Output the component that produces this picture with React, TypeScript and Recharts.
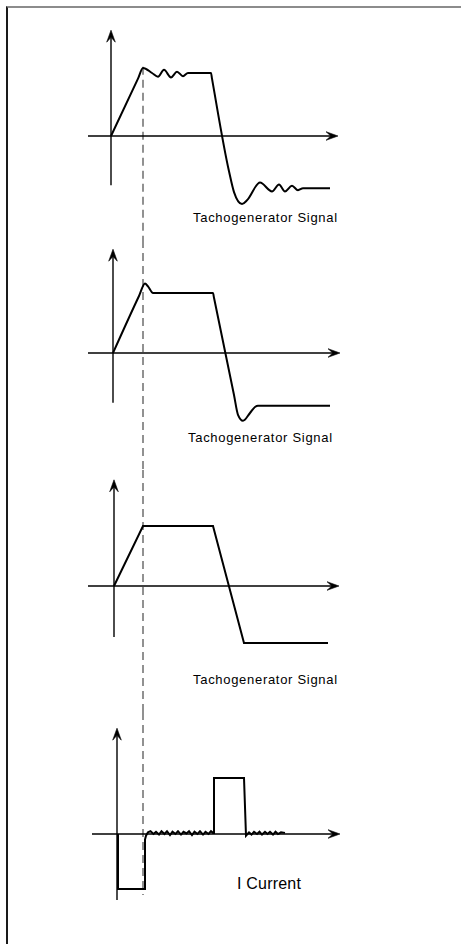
import React from 'react';
import { LineChart, Line, XAxis, YAxis, ReferenceLine } from 'recharts';

// shared time axis (arbitrary units) for all four traces
const timeDomain: [number, number] = [-28, 232];
const switchTime = 31; // dashed marker through every trace

// 1) tachogenerator, underdamped
const tacho1T = [-1, 26, 31, 40, 46, 52, 59, 65, 71, 76, 99, 100, 117, 122, 130, 135, 148, 160, 167, 173, 180, 186, 191, 218];
const tacho1V = [0, 0.91, 1.08, 1.0, 0.94, 1.05, 0.93, 1.02, 0.95, 1.0, 1.0, 0.91, -0.56, -0.89, -1.08, -1.02, -0.74, -0.88, -0.77, -0.88, -0.79, -0.86, -0.83, -0.83];

// 2) tachogenerator, one overshoot
const tacho2T = [1, 27, 33, 36, 41, 101, 102, 122, 126, 131, 138, 143, 146, 218];
const tacho2V = [0, 0.95, 1.16, 1.11, 1.0, 1.0, 0.92, -0.7, -1.03, -1.13, -1.0, -0.9, -0.88, -0.88];

// 3) tachogenerator, ideal
const tacho3T = [2, 31, 101, 132, 216];
const tacho3V = [0, 1, 1, -0.95, -0.95];

// 4) armature current
const currentT = [6, 6, 33, 33, 34, 36, 38.5, 41.5, 44, 47, 49.5, 52.5, 55, 58, 60.5, 63.5, 66, 69, 71.5, 74.5, 77, 80, 82.5, 85.5, 88, 91, 93.5, 96.5, 99, 101, 102, 102, 132, 134, 137, 139.5, 142, 145, 147.5, 150, 153, 155.5, 158, 161, 163.5, 166, 169, 173];
const currentV = [0, -0.98, -0.98, -0.1, -0.03, 0.03, 0.05, 0.0, 0.04, -0.01, 0.05, 0.0, 0.05, -0.02, 0.04, 0.0, 0.05, -0.01, 0.04, 0.01, 0.05, -0.02, 0.04, 0.0, 0.05, -0.01, 0.04, 0.0, 0.05, 0.02, 0.02, 1.0, 1.0, -0.03, 0.03, -0.01, 0.04, 0.0, 0.04, -0.01, 0.04, 0.0, 0.04, -0.01, 0.04, 0.0, 0.03, 0.02];

const labels = ['Tachogenerator Signal', 'Tachogenerator Signal', 'Tachogenerator Signal', 'I Current'];

const toRows = (t: number[], v: number[]) => t.map((x, i) => ({ t: x, v: v[i] }));

const ArrowLine = (props: any) => {
  const { x1, y1, x2, y2 } = props;
  const a = Math.atan2(y2 - y1, x2 - x1);
  const L = 12;
  const W = 4.3;
  const ca = Math.cos(a);
  const sa = Math.sin(a);
  const pt = (u: number, w: number) => `${x2 + u * ca - w * sa},${y2 + u * sa + w * ca}`;
  return (
    <g>
      <line x1={x1} y1={y1} x2={x2 - 7 * ca} y2={y2 - 7 * sa} stroke="#000" strokeWidth={1.4} />
      <path d={`M${pt(0, 0)} L${pt(-L, -W)} L${pt(-L * 0.6, 0)} L${pt(-L, W)} Z`} fill="#000" stroke="#000" strokeWidth={0.6} strokeLinejoin="round" />
    </g>
  );
};

const panels = [
  { rows: toRows(tacho1T, tacho1V), curve: 'monotone', top: 20, bottom: 240, y0: 136, ppu: 63, axisT: -1, axisLo: -0.78, axisHi: 1.68, xStart: -24, xEnd: 226, dashTop: 1.1, dashBottom: null as number | null, label: { left: 193, top: 210.5, size: 13, spacing: 0.7 } },
  { rows: toRows(tacho2T, tacho2V), curve: 'monotone', top: 240, bottom: 470, y0: 353, ppu: 60, axisT: 1, axisLo: -0.83, axisHi: 1.73, xStart: -24, xEnd: 228, dashTop: null as number | null, dashBottom: null as number | null, label: { left: 188, top: 430.5, size: 13, spacing: 0.7 } },
  { rows: toRows(tacho3T, tacho3V), curve: 'linear', top: 470, bottom: 712, y0: 586, ppu: 60, axisT: 2, axisLo: -0.85, axisHi: 1.77, xStart: -24, xEnd: 227, dashTop: null as number | null, dashBottom: null as number | null, label: { left: 193, top: 673, size: 13, spacing: 0.7 } },
  { rows: toRows(currentT, currentV), curve: 'linear', top: 712, bottom: 912, y0: 834, ppu: 56, axisT: 5, axisLo: -1.18, axisHi: 1.89, xStart: -20, xEnd: 228, dashTop: null as number | null, dashBottom: -1.09, label: { left: 237, top: 875.5, size: 16, spacing: 0.2 } },
];

export default function App() {
  const chartLeft = 84;
  const chartWidth = timeDomain[1] - timeDomain[0];
  return (
    <div style={{ position: 'fixed', left: 0, top: 0, width: 461, height: 944, background: '#fff', overflow: 'hidden' }}>
      <div style={{ position: 'absolute', left: 6, top: 6, width: 455, height: 938, borderTop: '2px solid #8c8c8c', borderLeft: '2px solid #1a1a1a' }} />
      {panels.map((p, i) => {
        const lo = (p.y0 - p.bottom) / p.ppu;
        const hi = (p.y0 - p.top) / p.ppu;
        return (
          <div key={i} style={{ position: 'absolute', left: chartLeft, top: p.top }}>
            <LineChart width={chartWidth} height={p.bottom - p.top} data={p.rows} margin={{ top: 0, right: 0, bottom: 0, left: 0 }}>
              <XAxis type="number" dataKey="t" domain={timeDomain} hide allowDataOverflow />
              <YAxis type="number" domain={[lo, hi]} hide allowDataOverflow />
              <ReferenceLine
                segment={[{ x: switchTime, y: p.dashTop ?? hi }, { x: switchTime, y: p.dashBottom ?? lo }]}
                stroke="#6e6e6e"
                strokeWidth={1.5}
                strokeDasharray="8 5"
                ifOverflow="visible"
              />
              <ReferenceLine segment={[{ x: p.xStart, y: 0 }, { x: p.xEnd, y: 0 }]} shape={ArrowLine} ifOverflow="visible" />
              <ReferenceLine segment={[{ x: p.axisT, y: p.axisLo }, { x: p.axisT, y: p.axisHi }]} shape={ArrowLine} ifOverflow="visible" />
              <Line dataKey="v" type={p.curve as any} stroke="#000" strokeWidth={2} dot={false} isAnimationActive={false} />
            </LineChart>
          </div>
        );
      })}
      {panels.map((p, i) => (
        <div
          key={'l' + i}
          style={{ position: 'absolute', left: p.label.left, top: p.label.top, fontFamily: '"Liberation Sans", Arial, sans-serif', fontSize: p.label.size, lineHeight: `${p.label.size}px`, letterSpacing: p.label.spacing, color: '#000', whiteSpace: 'nowrap' }}
        >
          {labels[i]}
        </div>
      ))}
    </div>
  );
}
